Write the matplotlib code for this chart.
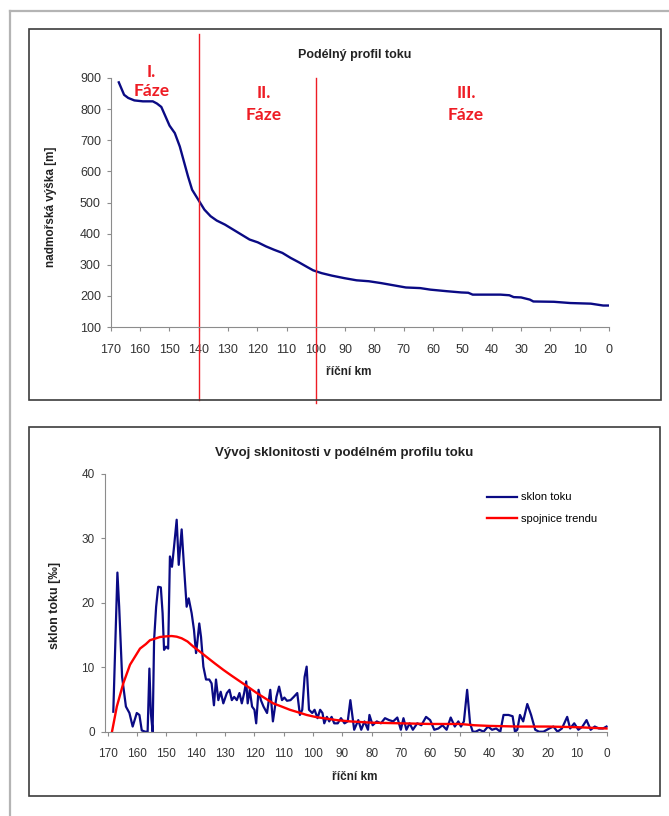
import matplotlib
matplotlib.use("Agg")
import matplotlib.pyplot as plt
from matplotlib.lines import Line2D
from matplotlib.patches import Rectangle

plt.rcParams['font.family'] = ['Liberation Sans', 'DejaVu Sans']

# --- data ---
# longitudinal profile (river km -> elevation in m)
prof_km = [167.2, 165.4, 164, 161.9, 159, 155.6, 154.2, 152.7, 151.3, 149.9, 148.1, 146.4,
           145, 143.6, 142.2, 140.1, 138, 135.9, 133.8, 131, 128.2, 125.4, 122.6, 119.8,
           117, 114.2, 111.4, 108.6, 105.8, 103, 100.9, 98, 94.5, 90.3, 86.1, 81.9, 77.7,
           73.5, 69.3, 64.4, 60.9, 55.3, 50.4, 48, 46.5, 37, 34, 32.5, 30, 27, 25.8, 18.8,
           13.2, 6.2, 2, 0]
prof_elev = [886, 846, 836, 828, 825, 825, 818, 807, 777, 747, 723, 680,
             632, 584, 541, 509, 477, 456, 442, 429, 413, 397, 381, 372,
             359, 348, 338, 322, 308, 293, 282, 273, 265, 257, 250, 247, 241,
             234, 227, 225, 220, 215, 211, 210, 204, 204, 202, 196, 195, 188, 182, 181,
             177, 175, 169, 169]

# slope (per mille) along the river
slope_km = [168.1, 166.7, 166.1, 165.1, 163.8, 162.6, 161.5, 160.1, 159.2, 158.4, 157.2, 156.4,
            155.8, 155.3, 154.7, 154.2, 153.5, 152.8, 151.9, 151.3, 150.8, 150.1, 149.4, 148.8,
            148.1, 147.4, 146.5, 145.8, 144.8, 144.0, 143.1, 142.4, 141.4, 140.6, 139.9, 139.5,
            138.8, 138.2, 137.4, 136.5, 135.4, 134.6, 133.8, 133.1, 132.3, 131.5, 130.6, 129.4,
            128.5, 127.7, 126.9, 126.0, 125.1, 124.3, 123.5, 122.8, 122.3, 121.6, 120.8, 120.0,
            119.4, 118.6, 117.8, 116.9, 115.7, 114.6, 113.7, 112.5, 111.6, 110.6, 109.8, 108.9,
            107.7, 106.6, 105.4, 104.5, 103.7, 102.9, 102.2, 101.4, 100.3, 99.5, 98.5, 97.6,
            96.8, 96.2, 95.3, 94.5, 93.7, 92.8, 91.6, 90.5, 89.3, 88.2, 87.3, 86.0,
            84.6, 83.6, 82.5, 81.3, 80.8, 79.7, 78.3, 76.9, 75.5, 74.1, 72.7, 71.3,
            70.1, 69.2, 68.2, 67.1, 66.0, 64.5, 63.1, 61.5, 60.1, 58.7, 57.3, 55.9,
            54.5, 53.1, 51.7, 50.5, 49.6, 48.6, 47.5, 46.5, 45.6, 44.6, 43.3, 41.9,
            40.4, 39.0, 37.6, 36.2, 35.1, 33.4, 32.0, 31.2, 30.4, 29.5, 28.4, 27.0,
            25.7, 24.3, 23.0, 21.5, 19.5, 18.1, 16.7, 15.2, 13.4, 12.4, 11.0, 9.6,
            8.2, 6.8, 5.4, 4.0, 2.6, 1.2, 0.0]
slope_val = [3.1, 24.7, 19.4, 8.5, 3.9, 2.9, 0.8, 2.9, 2.6, 0.2, 0.0, 0.0,
             9.8, 2.9, 0.0, 14.2, 19.4, 22.5, 22.4, 18.4, 12.7, 13.2, 12.9, 27.2,
             25.6, 28.7, 32.9, 25.9, 31.4, 25.6, 19.4, 20.7, 18.4, 15.8, 12.2, 13.7,
             16.8, 14.7, 10.1, 8.1, 8.1, 7.5, 4.1, 8.1, 4.9, 6.2, 4.4, 6.0,
             6.5, 4.9, 5.4, 4.9, 6.0, 4.4, 6.0, 7.8, 4.4, 6.5, 3.9, 3.4,
             1.3, 6.5, 4.9, 3.9, 2.9, 6.5, 1.6, 5.4, 7.0, 4.9, 5.3, 4.8,
             4.9, 5.4, 6.0, 2.6, 3.4, 8.5, 10.1, 3.4, 2.9, 3.4, 2.1, 3.4,
             2.9, 1.3, 2.3, 1.6, 2.3, 1.3, 1.3, 2.1, 1.3, 1.6, 4.9, 0.3,
             1.8, 0.3, 1.6, 0.3, 2.6, 1.0, 1.6, 1.3, 2.1, 1.8, 1.6, 2.2,
             0.3, 2.1, 0.3, 1.3, 0.3, 1.3, 1.0, 2.3, 1.8, 0.3, 0.5, 1.0,
             0.3, 2.2, 0.8, 1.6, 0.8, 1.6, 6.5, 1.3, 0.0, 0.0, 0.3, 0.0,
             0.8, 0.3, 0.5, 0.0, 2.6, 2.6, 2.4, 0.0, 0.3, 2.6, 1.6, 4.3,
             2.6, 0.3, 0.0, 0.0, 0.5, 0.8, 0.0, 0.5, 2.3, 0.5, 1.3, 0.3,
             0.8, 1.8, 0.3, 0.8, 0.5, 0.5, 0.8]

# trend line
trend_km = [168.5, 166.9, 164.7, 162.4, 159, 157, 155.6, 153.5, 152.2, 150, 148.2, 146.5,
            144.8, 142.8, 140.8, 138.5, 136.3, 133.5, 130.6, 127.8, 124.9, 122, 119.2, 116.4,
            113.6, 110.7, 107.9, 105, 102.2, 99.3, 96.5, 92, 87.4, 80, 70, 60, 50, 45, 40,
            30, 20, 10, 0]
trend_val = [0.1, 3.9, 7.5, 10.4, 12.9, 13.6, 14.2, 14.5, 14.7, 14.8, 14.85, 14.75,
             14.5, 14.0, 13.2, 12.4, 11.6, 10.6, 9.6, 8.7, 7.8, 6.9, 6.0, 5.2,
             4.4, 3.9, 3.4, 3.0, 2.6, 2.3, 2.1, 1.8, 1.6, 1.4, 1.3, 1.2, 1.2, 1.0, 0.9,
             0.8, 0.8, 0.7, 0.5]

km_ticks = list(range(170, -1, -10))
phase_km = [140, 100]
phase_names = ["I.", "II.", "III."]

W, H = 669, 816
fig = plt.figure(figsize=(W / 100, H / 100), dpi=100)

def fx(p):
    return p / W

def fy(p):
    return 1 - p / H

NAVY = "#0a0a84"
RED = "#ee1c24"
TICKC = "#333333"
AXC = "#8c8c8c"

# outer gray frame (left + top only) and the two chart boxes
fig.add_artist(Line2D([fx(10), fx(10)], [fy(11), 0], color="#b4b4b4", lw=1.6,
                      transform=fig.transFigure))
fig.add_artist(Line2D([fx(10), 1], [fy(11), fy(11)], color="#b4b4b4", lw=1.6,
                      transform=fig.transFigure))
for (x0, y0, x1, y1) in [(29, 29, 661, 400), (29, 427, 660, 796)]:
    fig.add_artist(Rectangle((fx(x0), fy(y1)), fx(x1 - x0), (y1 - y0) / H, fill=False,
                             ec="#3c3c3c", lw=1.2, transform=fig.transFigure))


def style_axes(ax, size):
    for s in ["top", "right"]:
        ax.spines[s].set_visible(False)
    for s in ["left", "bottom"]:
        ax.spines[s].set_color(AXC)
        ax.spines[s].set_linewidth(0.8)
    ax.tick_params(direction="out", length=3, width=0.8, color=AXC,
                   labelsize=size, labelcolor=TICKC, pad=4)
    ax.set_facecolor("none")


# --- top chart: longitudinal profile ---
ax1 = fig.add_axes([fx(110.6), fy(327), fx(609 - 110.6), (327 - 78) / H])
ax1.plot(prof_km, prof_elev, color=NAVY, lw=1.7, solid_joinstyle="round")
ax1.set_xlim(170, 0)
ax1.set_ylim(100, 900)
ax1.set_xticks(km_ticks)
ax1.set_yticks(range(100, 901, 100))
style_axes(ax1, 9)
ax1.tick_params(axis="x", pad=9)

# phase boundaries
ax1.axvline(phase_km[0], ymin=(327 - 400) / 249, ymax=(327 - 34) / 249, color=RED,
            lw=1.0, clip_on=False)
ax1.axvline(phase_km[1], ymin=(327 - 403) / 249, ymax=1.0, color=RED, lw=1.0,
            clip_on=False)

phase_pos = [(151.4, 71.7, 90.7), (263.7, 93, 115), (466, 93, 115)]
for name, (px, py1, py2) in zip(phase_names, phase_pos):
    fig.text(fx(px), fy(py1), name, color=RED, fontsize=12.5, fontweight="bold",
             family=["Lato", "DejaVu Sans"], ha="center", va="center")
    fig.text(fx(px), fy(py2), "Fáze", color=RED, fontsize=12.5, fontweight="bold",
             family=["Lato", "DejaVu Sans"], ha="center", va="center")

fig.text(fx(355), fy(55), "Podélný profil toku", fontsize=9, fontweight="bold",
         color="#222222", ha="center", va="center")
fig.text(fx(50.6), fy(207), "nadmořská výška [m]", fontsize=8.5, fontweight="bold",
         color="#222222", ha="center", va="center", rotation=90)
fig.text(fx(348.6), fy(372), "říční km", fontsize=8.5, fontweight="bold",
         color="#222222", ha="center", va="center")

# --- bottom chart: slope ---
ax2 = fig.add_axes([fx(104.5), fy(731.7), fx(606.5 - 104.5), (731.7 - 474) / H])
ax2.plot(slope_km, slope_val, color=NAVY, lw=1.6, clip_on=False, label="sklon toku")
ax2.plot(trend_km, trend_val, color="#ff0000", lw=1.7, clip_on=False,
         label="spojnice trendu")
ax2.set_xlim(171.1, 0)
ax2.set_ylim(0, 40)
ax2.set_xticks(km_ticks)
ax2.set_yticks(range(0, 41, 10))
style_axes(ax2, 8.5)
ax2.tick_params(axis="x", pad=9)

ax2.legend(loc="upper left", bbox_to_anchor=(fx(486.7), fy(492.5)),
           bbox_transform=fig.transFigure, frameon=False, fontsize=8,
           borderpad=0, borderaxespad=0, handlelength=2.75, handletextpad=0.3,
           labelspacing=1.05)

fig.text(fx(344.5), fy(453), "Vývoj sklonitosti v podélném profilu toku", fontsize=9.5,
         fontweight="bold", color="#222222", ha="center", va="center")
fig.text(fx(54.7), fy(605), "sklon toku [‰]", fontsize=9, fontweight="bold",
         color="#222222", ha="center", va="center", rotation=90)
fig.text(fx(354.7), fy(776.7), "říční km", fontsize=8.5, fontweight="bold",
         color="#222222", ha="center", va="center")

fig.savefig("out.png", dpi=100, facecolor="white")
